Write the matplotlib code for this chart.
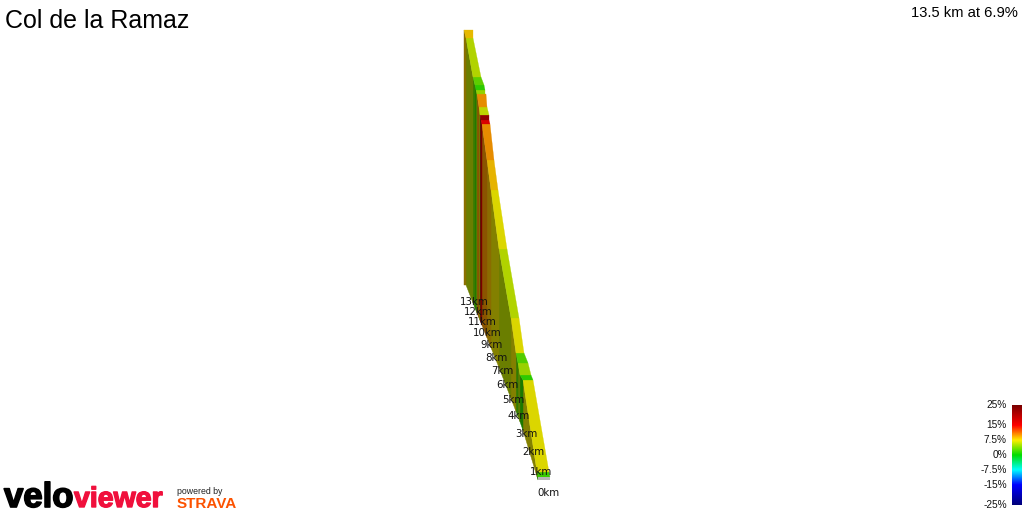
import numpy as np
import matplotlib
matplotlib.use("Agg")
import matplotlib.pyplot as plt
import matplotlib.patheffects as pe
from matplotlib.colors import LinearSegmentedColormap
from matplotlib.patches import Polygon

title = "Col de la Ramaz"
summary = "13.5 km at 6.9%"

# climb ribbon, bottom of the climb first (screen pixels)
seg_gradient = [1.8, 7.2, 1.4, 5.0, 2.6, 7.2, 5.7, 7.2, 8.6, 10.0, 16, 22, 6.2, 10.0, 4.8, 1.4, 3, 5.7, 8.4]
seg_y_near = [477, 472, 380, 375, 363, 353, 318, 249, 190, 160, 124, 120, 115, 107, 94, 90, 85, 77, 38]
seg_y_far = [472, 380, 375, 363, 353, 318, 249, 190, 160, 124, 120, 115, 107, 94, 90, 85, 77, 38, 30]
seg_xl_near = [538, 537, 523, 520, 518, 516, 511, 499, 491, 487, 482, 481, 480, 479, 477, 476, 475, 473, 466]
seg_xl_far = [537, 523, 520, 518, 516, 511, 499, 491, 487, 482, 481, 480, 479, 477, 476, 475, 473, 466, 464]
seg_xr_near = [550, 549, 533, 531, 528, 524, 519, 507, 498, 494, 490, 489, 489, 487, 485, 485, 484, 481, 473]
seg_xr_far = [549, 533, 531, 528, 524, 519, 507, 498, 494, 490, 489, 489, 487, 486, 485, 484, 481, 473, 473]
base_x = [464, 466, 473, 500, 522, 538]
base_y = [285, 285, 303, 370, 427, 480]

km_labels = ["0km", "1km", "2km", "3km", "4km", "5km", "6km", "7km", "8km", "9km", "10km", "11km", "12km", "13km"]
km_x = [549, 541, 533, 526, 519, 513, 507, 502, 496, 492, 487, 482, 478, 474]
km_y = [493, 472, 452, 434, 416, 400, 385, 371, 358, 345, 333, 322, 312, 302]

scale_values = [25, 15, 7.5, 0, -7.5, -15, -25]
scale_labels = ["25%", "15%", "7.5%", "0%", "-7.5%", "-15%", "-25%"]
scale_stops = [-25, -15, -7.5, 0, 7.5, 15, 25]
scale_colours = ["#00007a", "#0000ff", "#00ffff", "#00dd00", "#ffee00", "#ff0000", "#7a0000"]

cmap = LinearSegmentedColormap.from_list(
    "grade", [((s + 25) / 50, c) for s, c in zip(scale_stops, scale_colours)])


def grade_colour(g):
    return np.array(cmap((g + 25) / 50)[:3]) * 0.9


plt.rcParams["font.family"] = ["Liberation Sans", "DejaVu Sans"]
fig = plt.figure(figsize=(10.24, 5.12), dpi=100)
ax = fig.add_axes([0, 0, 1, 1])
ax.set_xlim(0, 1024)
ax.set_ylim(512, 0)
ax.axis("off")

# side wall, darker than the road surface
for g, yn, yf, xn, xf in zip(seg_gradient, seg_y_near, seg_y_far, seg_xl_near, seg_xl_far):
    bn = np.interp(xn, base_x, base_y)
    bf = np.interp(xf, base_x, base_y)
    col = grade_colour(g) * 0.6
    ax.add_patch(Polygon([(xn, yn), (xf, yf), (xf, bf), (xn, bn)], closed=True,
                         facecolor=col, edgecolor=col, lw=0.3, zorder=2))

# road surface
for g, yn, yf, xln, xlf, xrn, xrf in zip(seg_gradient, seg_y_near, seg_y_far,
                                         seg_xl_near, seg_xl_far, seg_xr_near, seg_xr_far):
    col = grade_colour(g)
    ax.add_patch(Polygon([(xln, yn), (xlf, yf), (xrf, yf), (xrn, yn)], closed=True,
                         facecolor=col, edgecolor=col, lw=0.2, zorder=3))

# grey start cap
ax.add_patch(Polygon([(seg_xl_near[0], seg_y_near[0]), (seg_xr_near[0], seg_y_near[0]),
                      (seg_xr_near[0], base_y[-1]), (seg_xl_near[0], base_y[-1])],
                     closed=True, facecolor="#b5b5b5", edgecolor="none", zorder=3))

for lab, x, y in zip(km_labels, km_x, km_y):
    ax.text(x, y, lab, family="DejaVu Sans", fontsize=7.4, color="#111111",
            ha="center", va="center", zorder=5)

ax.text(5, 20.5, title, fontsize=18, color="black", ha="left", va="center")
ax.text(1018, 13, summary, fontsize=10.6, color="black", ha="right", va="center")

# colour scale
grad = np.linspace(25, -25, 200).reshape(-1, 1)
ax.imshow(grad, cmap=cmap, vmin=-25, vmax=25, extent=(1012, 1022, 505, 405),
          aspect="auto", zorder=2, interpolation="bilinear")
ax.set_xlim(0, 1024)
ax.set_ylim(512, 0)
for v, lab in zip(scale_values, scale_labels):
    ax.text(1007, np.interp(v, [-25, 25], [505, 405]), lab, fontsize=7.3,
            color="#111111", ha="right", va="center")

# wordmarks
stroke = [pe.withStroke(linewidth=1.2, foreground="black")]
ax.text(4, 507, "velo", fontsize=25, fontweight="bold", color="black", ha="left",
        va="baseline", path_effects=stroke)
stroke_red = [pe.withStroke(linewidth=1.0, foreground="#f0103c")]
ax.text(74, 507, "viewer", fontsize=20.5, fontweight="bold", color="#f0103c", ha="left",
        va="baseline", path_effects=stroke_red)
ax.text(177, 492, "powered by", fontsize=6.3, color="#222222", ha="left", va="center")
ax.text(177, 504, "STRAVA", fontsize=11, fontweight="bold", color="#fc5200", ha="left",
        va="center")

fig.savefig("out.png", dpi=100)
